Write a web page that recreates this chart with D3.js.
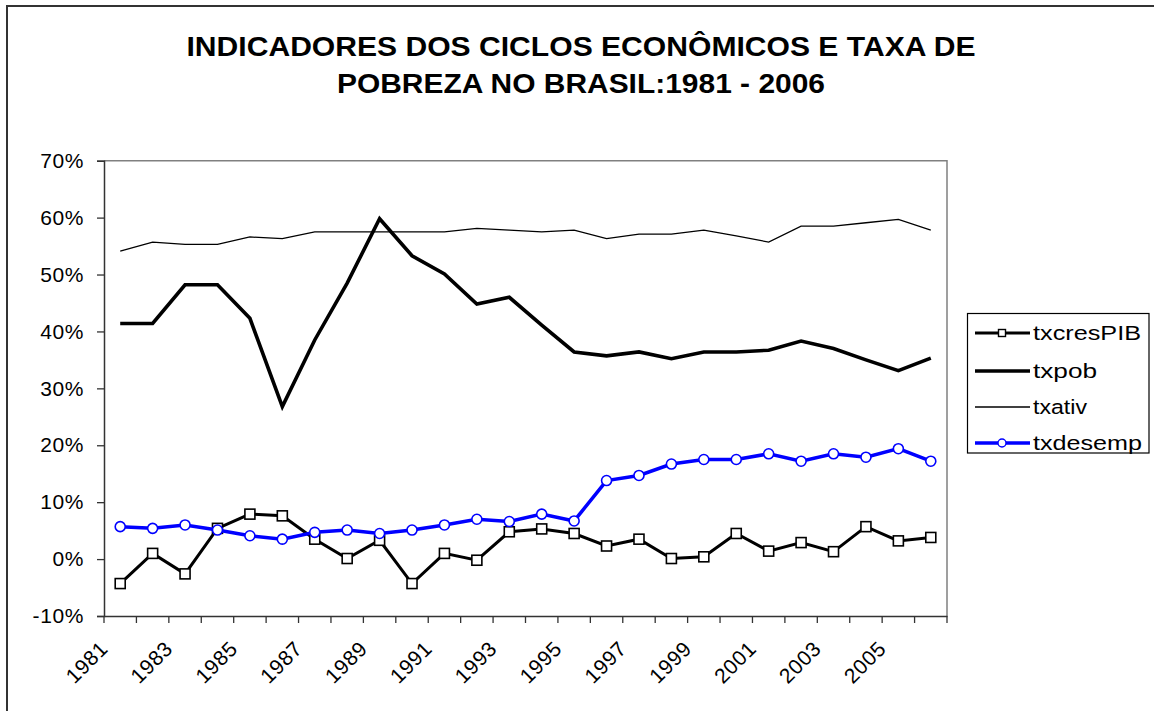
<!DOCTYPE html>
<html>
<head>
<meta charset="utf-8">
<script src="https://cdn.jsdelivr.net/npm/d3@7"></script>
<style>
  html, body { margin: 0; padding: 0; background: #fff; }
  svg { display: block; font-family: "Liberation Sans", Arial, sans-serif; }
</style>
</head>
<body>
<svg id="chart" width="1154" height="711"></svg>
<script>
const years = [1981,1982,1983,1984,1985,1986,1987,1988,1989,1990,1991,1992,1993,
               1994,1995,1996,1997,1998,1999,2000,2001,2002,2003,2004,2005,2006];
const txcresPIB = [-4.3,1.0,-2.6,5.4,7.9,7.6,3.5,0.1,3.3,-4.3,1.0,-0.2,4.8,
                   5.3,4.5,2.3,3.5,0.1,0.4,4.5,1.4,2.9,1.3,5.7,3.2,3.8];
const txpob = [41.4,41.4,48.2,48.2,42.3,26.8,38.5,48.5,59.8,53.3,50.1,44.8,46.0,
               41.1,36.4,35.7,36.4,35.2,36.4,36.4,36.7,38.3,37.0,35.0,33.1,35.3];
const txativ = [54.1,55.7,55.3,55.3,56.6,56.3,57.5,57.5,57.5,57.5,57.5,58.1,57.8,
                57.5,57.8,56.3,57.1,57.1,57.8,56.8,55.7,58.5,58.5,59.1,59.7,57.8];
const txdesemp = [5.7,5.4,6.0,5.1,4.1,3.5,4.7,5.1,4.5,5.1,6.0,7.0,6.6,
                  7.9,6.7,13.8,14.7,16.7,17.5,17.5,18.5,17.2,18.5,17.9,19.4,17.2];
const yTicks = [-10,0,10,20,30,40,50,60,70];
const xLabelYears = [1981,1983,1985,1987,1989,1991,1993,1995,1997,1999,2001,2003,2005];
const titleLines = ["INDICADORES DOS CICLOS ECONÔMICOS E TAXA DE", "POBREZA NO BRASIL:1981 - 2006"];
const seriesNames = ["txcresPIB","txpob","txativ","txdesemp"];

const svg = d3.select("#chart");

// outer chart border
svg.append("rect").attr("x",7).attr("y",6).attr("width",1170).attr("height",730)
  .attr("fill","#fff").attr("stroke","#333").attr("stroke-width",2);

// title
const titleW = [789, 488];
svg.append("g").selectAll("text").data(titleLines).join("text")
  .attr("x",(d,i)=>581 - titleW[i]/2).attr("y",(d,i)=>56+i*37)
  .attr("font-size",27).attr("font-weight","bold")
  .attr("textLength",(d,i)=>titleW[i]).attr("lengthAdjust","spacingAndGlyphs")
  .attr("fill","#000")
  .text(d=>d);

const L=104, R=947, T=160.7, B=616;
const x = d3.scaleBand().domain(years).range([L,R]);
const cx = d => x(d) + x.bandwidth()/2;
const y = d3.scaleLinear().domain([-10,70]).range([B,T]);

// plot frame (top & right gray)
svg.append("path").attr("d",`M${L},${T}H${R}V${B}`).attr("fill","none")
  .attr("stroke","#808080").attr("stroke-width",1.5);

// y axis
const yAxis = svg.append("g").attr("transform",`translate(${L},0)`)
  .call(d3.axisLeft(y).tickValues(yTicks).tickSize(7).tickPadding(13)
        .tickFormat(d=>(d<0?"-":"")+Math.abs(d)+"%"));
yAxis.select(".domain").attr("stroke","#333").attr("stroke-width",1.5);
yAxis.selectAll(".tick line").attr("stroke","#333").attr("stroke-width",1.3);
yAxis.selectAll(".tick text").attr("font-size",21).attr("fill","#000")
  .attr("letter-spacing",0.6).attr("font-family","Liberation Sans, Arial, sans-serif");

// x axis
const xAxis = svg.append("g").attr("transform",`translate(0,${B})`)
  .call(d3.axisBottom(x).tickSize(0).tickFormat(""));
xAxis.select(".domain").attr("stroke","#333").attr("stroke-width",1.5);
xAxis.selectAll(".tick").remove();
const bounds = years.map(d=>x(d)).concat([x(years[years.length-1])+x.bandwidth()]);
svg.append("g").selectAll("line").data(bounds).join("line")
  .attr("x1",d=>d).attr("x2",d=>d).attr("y1",B).attr("y2",B+7)
  .attr("stroke","#333").attr("stroke-width",1.3);
svg.append("g").selectAll("text").data(xLabelYears).join("text")
  .attr("transform",d=>`translate(${cx(d)-11},${B+34}) rotate(-45)`)
  .attr("text-anchor","end")
  .attr("font-size",21).attr("letter-spacing",0.6).attr("fill","#000")
  .text(d=>d);

// series
const line = d3.line().x((d,i)=>cx(years[i])).y(d=>y(d));
function drawLine(data, color, width){
  svg.append("path").datum(data).attr("d",line).attr("fill","none")
    .attr("stroke",color).attr("stroke-width",width)
    .attr("stroke-linejoin","miter").attr("stroke-linecap","butt");
}
drawLine(txcresPIB,"#000",3);
svg.append("g").selectAll("rect").data(txcresPIB).join("rect")
  .attr("x",(d,i)=>cx(years[i])-5).attr("y",d=>y(d)-5)
  .attr("width",10).attr("height",10)
  .attr("fill","#fff").attr("stroke","#000").attr("stroke-width",1.6);
drawLine(txpob,"#000",3.6);
drawLine(txativ,"#000",1.3);
drawLine(txdesemp,"#0000ff",3.5);
svg.append("g").selectAll("circle").data(txdesemp).join("circle")
  .attr("cx",(d,i)=>cx(years[i])).attr("cy",d=>y(d)).attr("r",5)
  .attr("fill","#fff").attr("stroke","#0000ff").attr("stroke-width",1.6);

// legend
const lg = svg.append("g");
lg.append("rect").attr("x",967.5).attr("y",313.5).attr("width",181.5).attr("height",139.5)
  .attr("fill","#fff").attr("stroke","#000").attr("stroke-width",1.2);
const legY = [333,371,407,443];
const legW = [108,64,54,109];
const legStyle = [
  {color:"#000", w:3, marker:"square"},
  {color:"#000", w:3.6, marker:null},
  {color:"#000", w:1.3, marker:null},
  {color:"#0000ff", w:3.5, marker:"circle"}
];
seriesNames.forEach((name,i)=>{
  const s = legStyle[i], yy = legY[i];
  lg.append("line").attr("x1",975).attr("x2",1030).attr("y1",yy).attr("y2",yy)
    .attr("stroke",s.color).attr("stroke-width",s.w);
  if(s.marker==="square"){
    lg.append("rect").attr("x",998.5).attr("y",yy-3.5).attr("width",7).attr("height",7)
      .attr("fill","#fff").attr("stroke","#000").attr("stroke-width",1.4);
  } else if(s.marker==="circle"){
    lg.append("circle").attr("cx",1002).attr("cy",yy).attr("r",4)
      .attr("fill","#fff").attr("stroke","#0000ff").attr("stroke-width",1.4);
  }
  lg.append("text").attr("x",1033).attr("y",yy+7)
    .attr("font-size",20.5)
    .attr("textLength",legW[i]).attr("lengthAdjust","spacingAndGlyphs")
    .attr("fill","#000").text(name);
});
</script>
</body>
</html>
